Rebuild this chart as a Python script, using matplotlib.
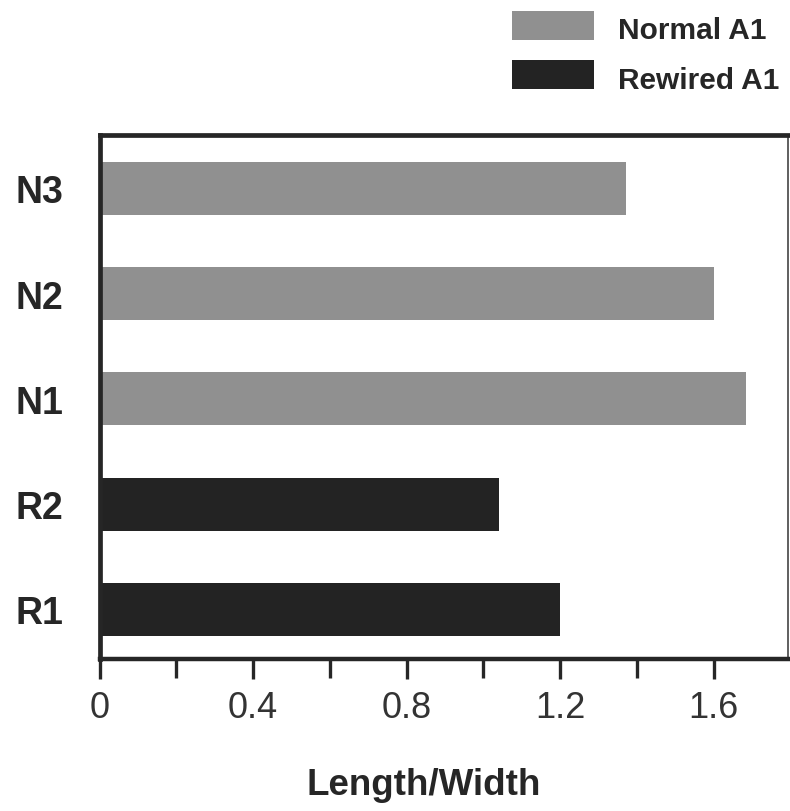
import matplotlib
matplotlib.use("Agg")
import matplotlib.pyplot as plt
from matplotlib.patches import Rectangle
from matplotlib.ticker import FixedLocator

plt.rcParams["font.family"] = ["Liberation Sans", "DejaVu Sans"]

# Length/width ratios per map
categories = ["R1", "R2", "N1", "N2", "N3"]
ratios = [1.20, 1.04, 1.685, 1.60, 1.373]
groups = ["Rewired A1", "Rewired A1", "Normal A1", "Normal A1", "Normal A1"]
group_colors = {"Normal A1": "#909090", "Rewired A1": "#232323"}
legend_order = ["Normal A1", "Rewired A1"]
x_ticks = [0, 0.4, 0.8, 1.2, 1.6]
x_tick_labels = ["0", "0.4", "0.8", "1.2", "1.6"]

ink = "#262626"

fig = plt.figure(figsize=(7.9, 8.12), dpi=100)
ax = fig.add_axes([99.5 / 790, 1 - 660 / 812, (788 - 99.5) / 790, (660 - 135.5) / 812])

ypos = list(range(len(categories)))
ax.barh(ypos, ratios, height=0.505, color=[group_colors[g] for g in groups],
        edgecolor="none", zorder=2)

ax.set_xlim(0, 1.794)
ax.set_ylim(-0.47, 4.51)

ax.xaxis.set_major_locator(FixedLocator(x_ticks))
ax.set_xticklabels(x_tick_labels)
ax.xaxis.set_minor_locator(FixedLocator([0.2, 0.6, 1.0, 1.4]))
ax.tick_params(axis="x", which="major", direction="out", length=14.5, width=2.4,
               color=ink, pad=8, labelsize=26, labelcolor="#333333")
ax.tick_params(axis="x", which="minor", direction="out", length=13.5, width=2.4,
               color=ink)

ax.set_yticks(ypos)
ax.set_yticklabels(categories, fontsize=27, fontweight="bold", color=ink)
ax.tick_params(axis="y", length=0, pad=26)

for side in ["left", "top"]:
    ax.spines[side].set_linewidth(3.4)
    ax.spines[side].set_color(ink)
ax.spines["bottom"].set_linewidth(3.2)
ax.spines["bottom"].set_color(ink)
ax.spines["right"].set_linewidth(1.2)
ax.spines["right"].set_color("#444444")

fig.text(424 / 790, 1 - 795 / 812, "Length/Width", fontsize=26.5, fontweight="bold",
         color=ink, ha="center", va="baseline")

# Legend: swatches and labels placed in figure pixels
rows = [(12, 41, 39), (61, 90, 89)]
for name, (top, bot, base) in zip(legend_order, rows):
    fig.add_artist(Rectangle((512 / 790, 1 - bot / 812), 82 / 790, (bot - top) / 812,
                             transform=fig.transFigure, facecolor=group_colors[name],
                             edgecolor="none"))
    fig.text(618 / 790, 1 - base / 812, name, fontsize=21.5, fontweight="bold",
             color=ink, ha="left", va="baseline")

fig.savefig("out.png", dpi=100)
